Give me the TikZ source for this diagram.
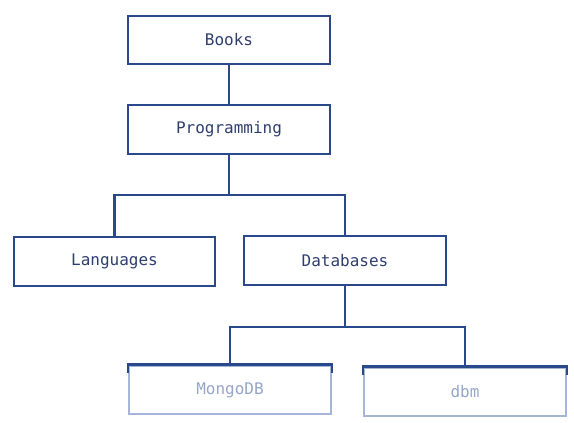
\documentclass[tikz,border=0pt]{standalone}
\usepackage{fontspec}
\setmonofont{DejaVu Sans Mono}
\usepackage{xcolor}
\definecolor{navyline}{RGB}{42,72,140}
\definecolor{navytext}{RGB}{46,62,112}
\definecolor{paleline}{RGB}{165,182,216}
\definecolor{paletext}{RGB}{150,166,200}

\begin{document}
\begin{tikzpicture}[x=0.75pt,y=-0.75pt,
                line/.style={draw=navyline, line width=1.7pt},
                box/.style={line, minimum width=151pt, minimum height=36.5pt, inner sep=0pt,
                            font=\ttfamily\fontsize{12}{14}\selectfont, text=navytext},
                palebox/.style={box, draw=paleline, text=paletext}]
                \useasboundingbox (0,0) rectangle (574,423);
                \node[box] (books) at (229,40) {Books};
                \node[box] (prog) at (229,129.5) {Programming};
                \node[box] (lang) at (114.5,261.5) {Languages};
                \node[box] (db) at (345,260.5) {Databases};
                \node[palebox] (mongo) at (230,390) {MongoDB};
                \node[palebox] (dbm) at (465,392) {dbm};
                \draw[line] (books) -- (prog);
                \draw[line] (prog.south) -- ++(0,40) coordinate (bus1);
                \draw[line] (lang.north) |- (bus1) -| (db.north);
                \draw[line] (db.south) -- ++(0,41) coordinate (bus2);
                \draw[line] (mongo.north) |- (bus2) -| (dbm.north);
                \draw[line] ([yshift=-6]mongo.north west) -- (mongo.north west) -- (mongo.north east) -- ([yshift=-6]mongo.north east);
                \draw[line] ([yshift=-6]dbm.north west) -- (dbm.north west) -- (dbm.north east) -- ([yshift=-6]dbm.north east);
            \end{tikzpicture}
\end{document}
